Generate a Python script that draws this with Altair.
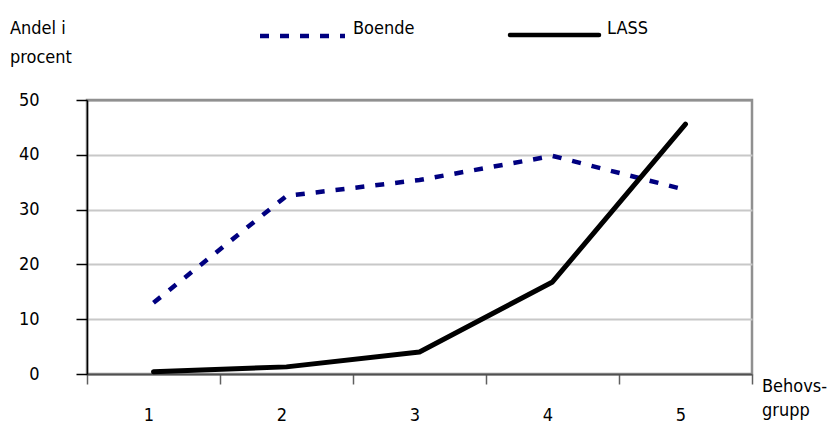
import altair as alt
import pandas as pd

groups = ["1", "2", "3", "4", "5"]
boende = [13.0, 32.5, 35.4, 39.8, 33.6]
lass = [0.4, 1.3, 4.0, 16.8, 45.6]
series = ["Boende", "LASS"]
y_ticks = [0, 10, 20, 30, 40, 50]

df = pd.DataFrame({
    "grupp": groups * 2,
    "andel": boende + lass,
    "serie": [series[0]] * len(groups) + [series[1]] * len(groups),
})

FONT = "Liberation Sans Narrow, DejaVu Sans Condensed, DejaVu Sans, sans-serif"
FS = 18

x_enc = alt.X(
    "grupp:O",
    scale=alt.Scale(type="band", paddingInner=0, paddingOuter=0),
    axis=alt.Axis(
        title=None, labelAngle=0, tickBand="extent", tickSize=10,
        tickColor="#606060", tickWidth=1.5, domainColor="#505050", domainWidth=2,
        labelOffset=-5, labelPadding=22, labelFont=FONT, labelFontSize=FS,
        labelColor="black",
    ),
)
y_enc = alt.Y(
    "andel:Q",
    scale=alt.Scale(domain=[0, 50]),
    axis=alt.Axis(
        title=None, values=y_ticks, tickSize=11, tickColor="black", tickWidth=1.5,
        domainColor="black", domainWidth=1.5, grid=True,
        gridColor={"condition": {"test": "datum.value == 50", "value": "#909090"}, "value": "#c8c8c8"},
        gridWidth=2, labelPadding=37, labelFont=FONT, labelFontSize=FS,
        labelColor="black",
    ),
)

base = alt.Chart(df)
line_boende = base.transform_filter(alt.datum.serie == series[0]).mark_line(
    color="#000080", strokeWidth=4.5, strokeDash=[9, 11], strokeCap="butt"
).encode(x=x_enc, y=y_enc)
line_lass = base.transform_filter(alt.datum.serie == series[1]).mark_line(
    color="black", strokeWidth=5, strokeCap="round", strokeJoin="round"
).encode(x=x_enc, y=y_enc)

one = alt.Data(values=[{}])

leg_boende = alt.Chart(one).mark_rule(
    color="#000080", strokeWidth=4.5, strokeDash=[9, 11]
).encode(x=alt.value(173), x2=alt.value(258), y=alt.value(-64))
leg_lass = alt.Chart(one).mark_rule(
    color="black", strokeWidth=4.5, strokeCap="round"
).encode(x=alt.value(423), x2=alt.value(512), y=alt.value(-65))


def label(txt, xx, yy):
    return alt.Chart(one).mark_text(
        align="left", baseline="alphabetic", font=FONT, fontSize=FS, color="black"
    ).encode(x=alt.value(xx), y=alt.value(yy), text=alt.value(txt))


texts = [
    label(series[0], 266, -66),
    label(series[1], 520, -66),
    label("Andel i", -77, -66),
    label("procent", -77, -37),
    label("Behovs-", 675, 292),
    label("grupp", 675, 316),
]

chart = alt.layer(
    line_boende, line_lass, leg_boende, leg_lass, *texts
).properties(
    width=665, height=274,
    autosize=alt.AutoSizeParams(type="none"),
    padding={"left": 79, "top": 92, "right": 80, "bottom": 49},
).configure_view(stroke="#909090", strokeWidth=2.5)

chart.save("out.html", embed_options={"renderer": "svg", "actions": False})
